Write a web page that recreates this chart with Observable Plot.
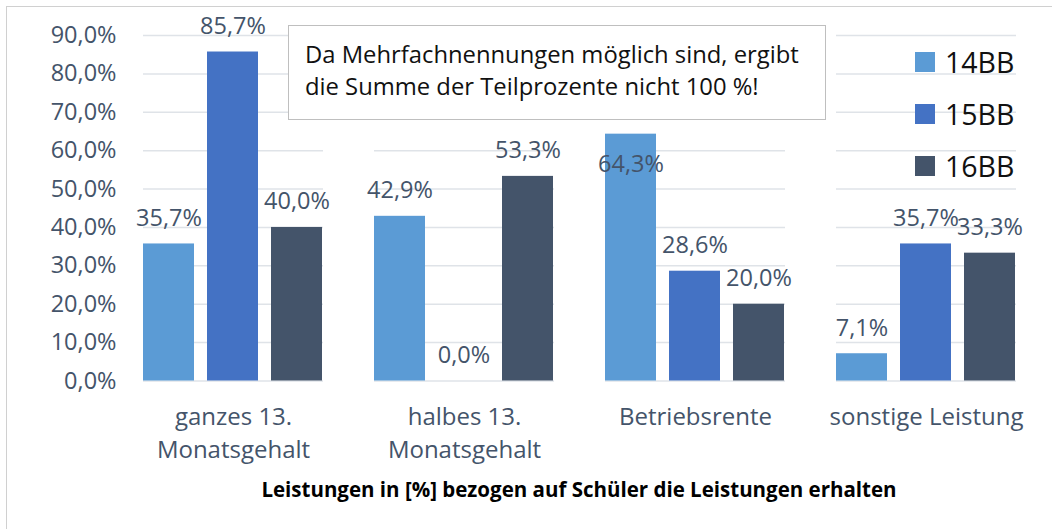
<!DOCTYPE html>
<html>
<head>
<meta charset="utf-8">
<script src="https://cdn.jsdelivr.net/npm/d3@7"></script>
<script src="https://cdn.jsdelivr.net/npm/@observablehq/plot@0.6"></script>
<style>
  html, body { margin: 0; padding: 0; background: #fff; overflow: hidden; }
  #wrap { position: relative; width: 1052px; height: 529px; font-family: "Open Sans", sans-serif; }
  #border { position: absolute; left: 6px; top: 6px; width: 1100px; height: 600px; border: 1px solid #d0d0d0; box-sizing: border-box; pointer-events: none; }
  #note { position: absolute; left: 288px; top: 25px; width: 538px; height: 95px; box-sizing: border-box;
          border: 1.5px solid #bfbfbf; background: #fff; color: #111; font-size: 23.8px; line-height: 32px; padding: 12px 0 0 16px; white-space: nowrap; }
  #legend { position: absolute; left: 915px; top: 36px; }
  .li { display: flex; align-items: center; height: 52px; font-size: 28.5px; color: #111; }
  .sw { width: 20px; height: 20px; margin-right: 10px; }
</style>
</head>
<body>
<div id="wrap"></div>
<script>
// --- data ---
const categories = ["ganzes 13.\nMonatsgehalt", "halbes 13.\nMonatsgehalt", "Betriebsrente", "sonstige Leistung"];
const series = ["14BB", "15BB", "16BB"];
const values14BB = [35.7, 42.9, 64.3, 7.1];
const values15BB = [85.7, 0.0, 28.6, 35.7];
const values16BB = [40.0, 53.3, 20.0, 33.3];
const colors = ["#5B9BD5", "#4472C4", "#44546A"];
const yTicks = [0, 10, 20, 30, 40, 50, 60, 70, 80, 90];
const axisTitle = "Leistungen in [%] bezogen auf Schüler die Leistungen erhalten";
const noteText = ["Da Mehrfachnennungen möglich sind, ergibt", "die Summe der Teilprozente nicht 100 %!"];

const seriesValues = [values14BB, values15BB, values16BB];
const rows = [];
categories.forEach((c, i) => series.forEach((s, j) => rows.push({category: c, series: s, value: seriesValues[j][i]})));

const fmt = v => v.toFixed(1).replace(".", ",") + "%";
const textColor = "#44546A";
// label that Excel moved inside the bar (collides with the note box)
const isInside = d => d.category === "Betriebsrente" && d.series === "14BB";
const font = "\"Open Sans\", sans-serif";

const chart = Plot.plot({
  width: 1052,
  height: 529,
  marginTop: 35,
  marginBottom: 148.5,
  marginLeft: 117,
  marginRight: 11,
  style: {fontFamily: font, background: "transparent", overflow: "visible"},
  fx: {domain: categories, paddingInner: 0.2208, paddingOuter: 0.1104, label: null},
  x: {domain: series, paddingInner: 0.2, paddingOuter: 0, axis: null},
  y: {domain: [0, 90], ticks: yTicks, label: null},
  color: {domain: series, range: colors},
  marks: [
    Plot.ruleY(yTicks, {stroke: "#dfe3e8", strokeWidth: 1.5}),
    Plot.axisY({ticks: yTicks, tickSize: 0, tickPadding: 27, tickFormat: v => v.toFixed(1).replace(".", ",") + "%",
      fontSize: 23.5, color: textColor, label: null}),
    Plot.axisFx({anchor: "bottom", tickSize: 0, tickPadding: 20, fontSize: 24, lineHeight: 1.38, color: textColor, label: null}),
    Plot.barY(rows, {fx: "category", x: "series", y: "value", fill: "series"}),
    Plot.text(rows.filter(d => !isInside(d)), {fx: "category", x: "series", y: "value", text: d => fmt(d.value),
      lineAnchor: "bottom", dy: -18, fontSize: 23.5, fill: textColor}),
    Plot.text(rows.filter(isInside), {fx: "category", x: "series", y: "value", text: d => fmt(d.value),
      lineAnchor: "bottom", dy: 38, fontSize: 23.5, fill: textColor}),
  ]
});

const wrap = document.getElementById("wrap");
wrap.appendChild(chart);
chart.style.position = "absolute";
chart.style.left = "0px";
chart.style.top = "0px";

// axis title below the chart area
const title = document.createElement("div");
title.textContent = axisTitle;
title.style.cssText = "position:absolute;left:117px;width:924px;top:475px;text-align:center;font-weight:bold;font-size:20.5px;color:#000;";
wrap.appendChild(title);

const note = document.createElement("div");
note.id = "note";
note.innerHTML = noteText.join("<br>");
wrap.appendChild(note);

const legend = document.createElement("div");
legend.id = "legend";
series.forEach((s, i) => {
  const li = document.createElement("div");
  li.className = "li";
  li.innerHTML = `<div class="sw" style="background:${colors[i]}"></div><span>${s}</span>`;
  legend.appendChild(li);
});
wrap.appendChild(legend);

const border = document.createElement("div");
border.id = "border";
wrap.appendChild(border);
</script>
</body>
</html>
